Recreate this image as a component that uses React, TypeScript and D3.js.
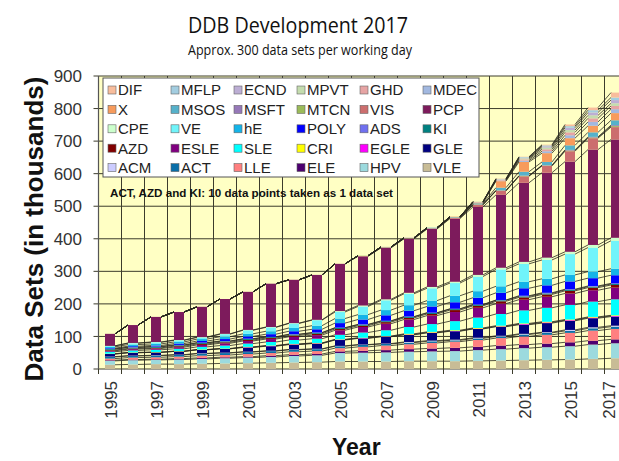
import React from "react";
import * as d3 from "d3";

const years = ["1995","1996","1997","1998","1999","2000","2001","2002","2003","2004","2005","2006","2007","2008","2009","2010","2011","2012","2013","2014","2015","2016","2017"];
const yTicks = [0,100,200,300,400,500,600,700,800,900];

// stacked bottom to top
const VLE = [13,14,15,15,16,17,18,19,20,21,23,23,23,24,24,24,25,26,27,28,29,31,33];
const HPV = [12,13,13,14,15,16,17,18,20,21,26,27,28,29,30,31,33,35,37,39,41,44,46];
const ELE = [2,2,2,3,3,3,3,4,4,4,5,6,7,8,9,10,10,11,11,11,12,12,12];
const LLE = [5,6,6,6,7,7,8,8,9,9,10,12,14,15,17,19,21,23,25,27,29,31,32];
const ACT = [5,5,5,5,6,6,6,6,6,6,6,6,5,5,5,4,5,5,6,6,6,7,7];
const ACM = [1,1,1,1,1,1,1,1,1,1,1,1,1,2,2,2,2,2,2,2,3,3,3];
const GLE = [8,9,9,10,11,12,13,14,15,16,18,19,21,22,24,26,27,28,28,28,28,28,28];
const EGLE = [0,0,0,0,0,0,1,1,1,1,1,1,1,1,1,1,1,1,2,2,2,2,2];
const CRI = [1,1,1,1,1,1,1,1,1,1,1,1,1,2,2,2,2,2,2,2,2,2,2];
const SLE = [6,6,7,7,8,9,10,11,12,13,14,16,18,21,24,28,32,36,40,43,45,47,49];
const ESLE = [3,4,4,5,6,7,8,9,10,11,14,17,20,23,26,28,30,32,33,34,35,35,36];
const AZD = [2,2,2,3,3,3,3,3,4,4,4,4,5,5,5,6,6,7,7,7,8,8,8];
const KI = [3,3,3,3,3,3,3,3,3,3,3,3,3,3,3,3,3,3,3,3,3,3,3];
const ADS = [1,1,1,1,1,1,1,1,1,1,1,1,1,1,1,1,1,1,2,2,2,2,2];
const POLY = [2,3,3,4,5,6,7,8,9,10,14,15,17,18,19,20,21,22,23,23,24,24,25];
const hE = [4,5,5,5,6,7,8,9,10,11,14,15,16,17,18,20,20,20,20,20,20,20,20];
const VE = [3,4,5,5,5,8,11,12,14,17,20,25,30,35,38,39,45,52,55,58,64,74,86];
const CPE = [0,1,1,1,1,1,1,1,1,1,3,3,3,3,4,4,5,5,6,7,7,8,9];
const PCP = [37,55,77,86,93,107,117,133,133,138,145,151,158,166,178,194,209,224,243,261,277,293,302];
const VIS = [0,0,0,0,0,0,0,0,0,0,0,1,1,1,1,2,6,12,20,21,32,35,38];
const MTCN = [0,0,0,0,0,0,0,0,0,0,0,1,1,1,1,1,1,1,1,1,2,2,3];
const MSFT = [0,0,0,0,0,0,0,0,0,0,0,0,1,1,1,1,1,1,1,1,2,2,3];
const MSOS = [0,0,0,0,0,0,0,0,0,0,0,0,0,0,1,1,3,8,12,10,14,14,15];
const X = [0,0,0,0,0,0,0,0,0,0,0,0,0,0,0,1,2,20,30,27,22,20,22];
const MDEC = [0,0,0,0,0,0,0,0,0,0,0,0,0,0,0,0,1,2,4,6,9,12,12];
const GHD = [0,0,0,0,0,0,0,0,0,0,0,0,0,0,0,0,1,2,4,6,9,11,10];
const MPVT = [0,0,0,0,0,0,0,0,0,0,0,0,0,0,0,0,1,1,3,5,7,9,8];
const ECND = [0,0,0,0,0,0,0,0,0,0,0,0,0,0,0,0,0,1,2,4,7,9,10];
const MFLP = [0,0,0,0,0,0,0,0,0,0,0,0,0,0,0,0,0,1,2,3,5,7,8];
const DIF = [0,0,0,0,0,0,0,0,0,0,0,0,0,0,0,0,0,1,1,2,5,8,15];

// legend order (row-major, 6 columns)
const legendNames = [
  "DIF","MFLP","ECND","MPVT","GHD","MDEC",
  "X","MSOS","MSFT","MTCN","VIS","PCP",
  "CPE","VE","hE","POLY","ADS","KI",
  "AZD","ESLE","SLE","CRI","EGLE","GLE",
  "ACM","ACT","LLE","ELE","HPV","VLE",
];
const seriesValues: Record<string, number[]> = {
  VLE, HPV, ELE, LLE, ACT, ACM, GLE, EGLE, CRI, SLE, ESLE, AZD, KI, ADS, POLY, hE, VE, CPE,
  PCP, VIS, MTCN, MSFT, MSOS, X, MDEC, GHD, MPVT, ECND, MFLP, DIF,
};
const stackOrder = legendNames.slice().reverse();
const colors: Record<string, string> = {
  DIF: "#f8bd9c", MFLP: "#a3cde0", ECND: "#bcaed4", MPVT: "#c4dcae", GHD: "#e6a4a4", MDEC: "#a2b8e0",
  X: "#f79b5c", MSOS: "#56b1ca", MSFT: "#9678b8", MTCN: "#9bbb59", VIS: "#cc6e6e", PCP: "#7d1b5c",
  CPE: "#ccffcc", VE: "#70f4fa", hE: "#14b4e8", POLY: "#0000ff", ADS: "#7070f0", KI: "#008080",
  AZD: "#800000", ESLE: "#800080", SLE: "#00ffff", CRI: "#ffff00", EGLE: "#ff00ff", GLE: "#000080",
  ACM: "#ccccff", ACT: "#0a6ea8", LLE: "#ff8080", ELE: "#4c0070", HPV: "#9cdade", VLE: "#c8bc96",
};

export default function App() {
  const W = 619, H = 461;
  const left = 98.5, step = 23, top = 76, bottom = 369;
  const x = d3.scaleBand<string>().domain(years).range([left, left + step * years.length]).padding(0);
  const y = d3.scaleLinear().domain([0, 900]).range([bottom, top]);
  const barW = 10;
  const bx = (yr: string) => (x(yr) as number) + (x.bandwidth() - barW) / 2;

  const table = years.map((yr, i) => {
    const row: any = { year: yr };
    stackOrder.forEach((k) => (row[k] = seriesValues[k][i]));
    return row;
  });
  const stacked = d3.stack<any>().keys(stackOrder)(table);
  const right = left + step * years.length;
  const font = "'Liberation Sans', Arial, sans-serif";
  const grid = "#3c3c2c";

  return (
    <svg width={W} height={H} style={{ position: "absolute", left: 0, top: 0, background: "#fff" }}>
      <text x={298} y={33} textAnchor="middle" fontFamily="'Open Sans', 'Noto Sans', sans-serif" fontSize={22} fill="#111" textLength={220} lengthAdjust="spacingAndGlyphs">DDB Development 2017</text>
      <text x={300} y={55} textAnchor="middle" fontFamily="'Open Sans', 'Noto Sans', sans-serif" fontSize={14} fill="#111" textLength={224} lengthAdjust="spacingAndGlyphs">Approx. 300 data sets per working day</text>

      <rect x={left} y={top} width={right - left} height={bottom - top} fill="#ffffc4" />
      {yTicks.map((t) => (
        <line key={"h" + t} x1={left - 5} x2={right} y1={y(t)} y2={y(t)} stroke={grid} strokeWidth={1} />
      ))}
      {years.map((yr) => (
        <line key={"v" + yr} x1={x(yr) as number} x2={x(yr) as number} y1={top} y2={bottom + 5} stroke={grid} strokeWidth={1} />
      ))}
      <line x1={left} x2={left} y1={top} y2={bottom} stroke="#555" strokeWidth={1.2} />

      {stacked.map((layer) => (
        <g key={layer.key} fill={colors[layer.key]}>
          {layer.map((d, i) =>
            d[1] - d[0] > 0 ? (
              <rect key={i} x={bx(years[i])} width={barW} y={y(d[1])} height={y(d[0]) - y(d[1])} />
            ) : null
          )}
        </g>
      ))}
      {stacked.map((layer) => (
        <g key={"sl" + layer.key} stroke="#2a2a20" strokeWidth={0.8} fill="none">
          {layer.slice(0, -1).map((d, i) => (
            <line key={i} x1={bx(years[i]) + barW} y1={y(d[1])} x2={bx(years[i + 1])} y2={y(layer[i + 1][1])} />
          ))}
        </g>
      ))}

      {yTicks.map((t) => (
        <text key={"yl" + t} x={82} y={y(t)} dy="0.36em" textAnchor="end" fontFamily={font} fontSize={17} fill="#333">{t}</text>
      ))}
      {years.filter((_, i) => i % 2 === 0).map((yr) => {
        const cx = Math.min((x(yr) as number) + x.bandwidth() / 2 + 1, 609);
        return (
          <text key={"xl" + yr} transform={`translate(${cx},381) rotate(-90)`} textAnchor="end" dy="0.36em" fontFamily={font} fontSize={17} fill="#333">{yr}</text>
        );
      })}
      <text transform="translate(34,229) rotate(-90)" textAnchor="middle" dy="0.36em" fontFamily={font} fontSize={26} fontWeight="bold" fill="#111">Data Sets (in thousands)</text>
      <text x={332} y={455} fontFamily={font} fontSize={23} fontWeight="bold" fill="#111">Year</text>

      <rect x={103} y={78} width={376} height={99} fill="#fff" stroke="#555" strokeWidth={1} />
      {legendNames.map((n, i) => {
        const col = i % 6, row = Math.floor(i / 6);
        const sx = 108 + col * 63;
        const sy = 90 + row * 19.4;
        return (
          <g key={"lg" + n}>
            <rect x={sx} y={sy - 4} width={8} height={8} fill={colors[n]} stroke="#666" strokeWidth={0.6} />
            <text x={sx + 10} y={sy} dy="0.36em" fontFamily={font} fontSize={15} fill="#222">{n}</text>
          </g>
        );
      })}
      <text x={110} y={197} fontFamily={font} fontSize={11.5} fontWeight="bold" fill="#111" textLength={283} lengthAdjust="spacingAndGlyphs">ACT, AZD  and KI: 10 data points taken as 1 data set</text>
    </svg>
  );
}
